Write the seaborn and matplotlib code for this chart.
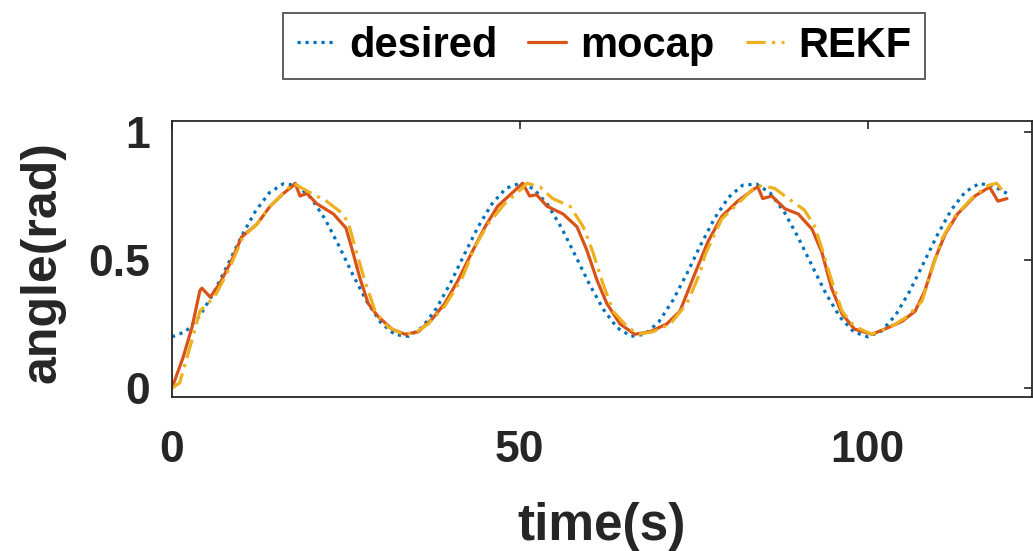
import numpy as np
import pandas as pd
import seaborn as sns
import matplotlib
matplotlib.use("Agg")
import matplotlib.pyplot as plt

# ---------------- data ----------------
desired_t = list(range(0, 121, 2))
desired_v = [0.200, 0.221, 0.282, 0.373, 0.481, 0.593, 0.691, 0.763, 0.798, 0.791,
             0.742, 0.660, 0.555, 0.442, 0.338, 0.256, 0.209, 0.202, 0.238, 0.311,
             0.409, 0.521, 0.630, 0.720, 0.780, 0.800, 0.778, 0.716, 0.625, 0.516,
             0.405, 0.307, 0.235, 0.202, 0.210, 0.260, 0.343, 0.447, 0.560, 0.664,
             0.745, 0.792, 0.797, 0.761, 0.687, 0.588, 0.477, 0.368, 0.277, 0.219,
             0.200, 0.223, 0.285, 0.377, 0.487, 0.598, 0.696, 0.766, 0.799, 0.790,
             0.760]

mocap_t = [0, 1.6, 2.9, 4.0, 4.3, 5.5, 6.9, 8.6, 10.0, 12.2,
           14.1, 16.0, 17.4, 17.7, 18.4, 19.4, 20.8, 23.2, 25.0, 25.9,
           27.0, 28.2, 29.6, 31.6, 33.5, 35.4, 37.4, 39.2, 41.1, 43.1,
           45.0, 46.8, 48.8, 50.4, 51.4, 52.4, 53.9, 56.2, 58.2, 59.6,
           61.1, 62.5, 64.4, 66.5, 68.7, 71.1, 73.0, 74.9, 77.0, 79.0,
           81.3, 83.8, 84.2, 84.9, 86.2, 88.1, 90.0, 92.0, 93.4, 94.8,
           96.3, 98.1, 100.6, 102.4, 104.9, 106.8, 108.2, 109.6, 111.1, 112.9,
           115.4, 117.5, 118.7, 120.0]
mocap_v = [0.0, 0.12, 0.24, 0.38, 0.39, 0.355, 0.41, 0.50, 0.59, 0.64,
           0.71, 0.76, 0.79, 0.80, 0.75, 0.76, 0.72, 0.68, 0.625, 0.54,
           0.43, 0.33, 0.28, 0.23, 0.21, 0.22, 0.27, 0.33, 0.42, 0.53,
           0.63, 0.71, 0.76, 0.80, 0.75, 0.755, 0.71, 0.68, 0.63, 0.54,
           0.42, 0.33, 0.25, 0.21, 0.22, 0.25, 0.30, 0.43, 0.57, 0.67,
           0.73, 0.78, 0.785, 0.74, 0.75, 0.70, 0.68, 0.62, 0.53, 0.39,
           0.29, 0.23, 0.21, 0.23, 0.26, 0.30, 0.38, 0.50, 0.60, 0.68,
           0.75, 0.785, 0.73, 0.74]

rekf_t = [0, 1.1, 3.0, 4.0, 5.5, 6.4, 8.3, 10.2, 12.2, 14.1,
          16.0, 17.4, 19.4, 22.2, 24.1, 25.3, 26.3, 27.7, 29.2, 31.0,
          33.2, 34.9, 36.8, 39.2, 41.7, 43.5, 45.4, 47.8, 50.3, 51.0,
          52.9, 54.7, 57.2, 59.1, 60.5, 61.9, 63.4, 65.4, 67.0, 69.1,
          71.6, 74.0, 75.9, 76.6, 79.0, 81.3, 83.8, 84.8, 86.6, 89.1,
          90.9, 92.4, 93.8, 94.8, 96.3, 98.1, 100.6, 103.4, 105.7, 107.8,
          109.2, 110.6, 112.5, 114.9, 117.2, 118.5, 119.7]
rekf_v = [0.0, 0.02, 0.20, 0.30, 0.34, 0.37, 0.47, 0.59, 0.64, 0.71,
          0.76, 0.80, 0.77, 0.73, 0.69, 0.65, 0.55, 0.42, 0.30, 0.24,
          0.21, 0.215, 0.25, 0.32, 0.43, 0.55, 0.64, 0.72, 0.78, 0.80,
          0.785, 0.74, 0.71, 0.63, 0.53, 0.41, 0.30, 0.24, 0.21, 0.22,
          0.25, 0.33, 0.45, 0.52, 0.66, 0.72, 0.785, 0.79, 0.78, 0.73,
          0.695, 0.63, 0.51, 0.42, 0.30, 0.24, 0.21, 0.24, 0.28, 0.34,
          0.46, 0.58, 0.67, 0.74, 0.79, 0.80, 0.76]

series_names = ["desired", "mocap", "REKF"]
x_ticks = [0, 50, 100]
y_ticks = [0, 0.5, 1]
y_tick_labels = ["0", "0.5", "1"]

# ---------------- style ----------------
sns.set_theme(style="white")
plt.rcParams["font.family"] = ["Liberation Sans", "DejaVu Sans"]
plt.rcParams["font.weight"] = "bold"
TXT = "#262626"

fig = plt.figure(figsize=(10.33, 5.51), dpi=100)
ax = fig.add_axes([172 / 1033, 1 - 397 / 551, (1032 - 172) / 1033, (397 - 121) / 551])

lw = 2.3
sns.lineplot(x=desired_t, y=desired_v, ax=ax, color="#0072BD", linewidth=lw,
             linestyle=(0, (1, 1.5)), label=series_names[0], estimator=None)
sns.lineplot(x=mocap_t, y=mocap_v, ax=ax, color="#D95319", linewidth=lw,
             linestyle="-", label=series_names[1], estimator=None)
sns.lineplot(x=rekf_t, y=rekf_v, ax=ax, color="#EDB120", linewidth=lw,
             linestyle=(0, (6, 2, 1, 2)), label=series_names[2], estimator=None)

ax.set_xlim(0, 123.6)
ax.set_ylim(-0.035, 1.043)
ax.set_xticks(x_ticks)
ax.set_xticklabels([str(v) for v in x_ticks])
ax.set_yticks(y_ticks)
ax.set_yticklabels(y_tick_labels)

ax.tick_params(axis="both", which="both", direction="in", length=5.5, width=1.2,
               colors=TXT, top=True, right=True, labelsize=32)
ax.tick_params(axis="x", pad=24)
ax.tick_params(axis="y", pad=16)
for lab in ax.get_xticklabels() + ax.get_yticklabels():
    lab.set_fontweight("bold")
    lab.set_color(TXT)

for sp in ax.spines.values():
    sp.set_visible(True)
    sp.set_color(TXT)
    sp.set_linewidth(1.3)

ax.set_xlabel("time(s)", fontsize=37, fontweight="bold", color=TXT)
ax.set_ylabel("angle(rad)", fontsize=36, fontweight="bold", color=TXT)
ax.xaxis.set_label_coords(0.5, -0.38)
ax.yaxis.set_label_coords(-0.124, 0.49)

leg = ax.legend(loc="center", bbox_to_anchor=(604 / 1033, 1 - 46 / 551),
                bbox_transform=fig.transFigure, ncol=3, frameon=True,
                fancybox=False, prop={"size": 30, "weight": "bold"},
                handlelength=0.9, handletextpad=0.35, columnspacing=0.75,
                borderpad=0.32, borderaxespad=0)
leg.get_frame().set_edgecolor(TXT)
leg.get_frame().set_linewidth(1.3)
for t in leg.get_texts():
    t.set_color("black")

fig.savefig("out.png", dpi=100)
